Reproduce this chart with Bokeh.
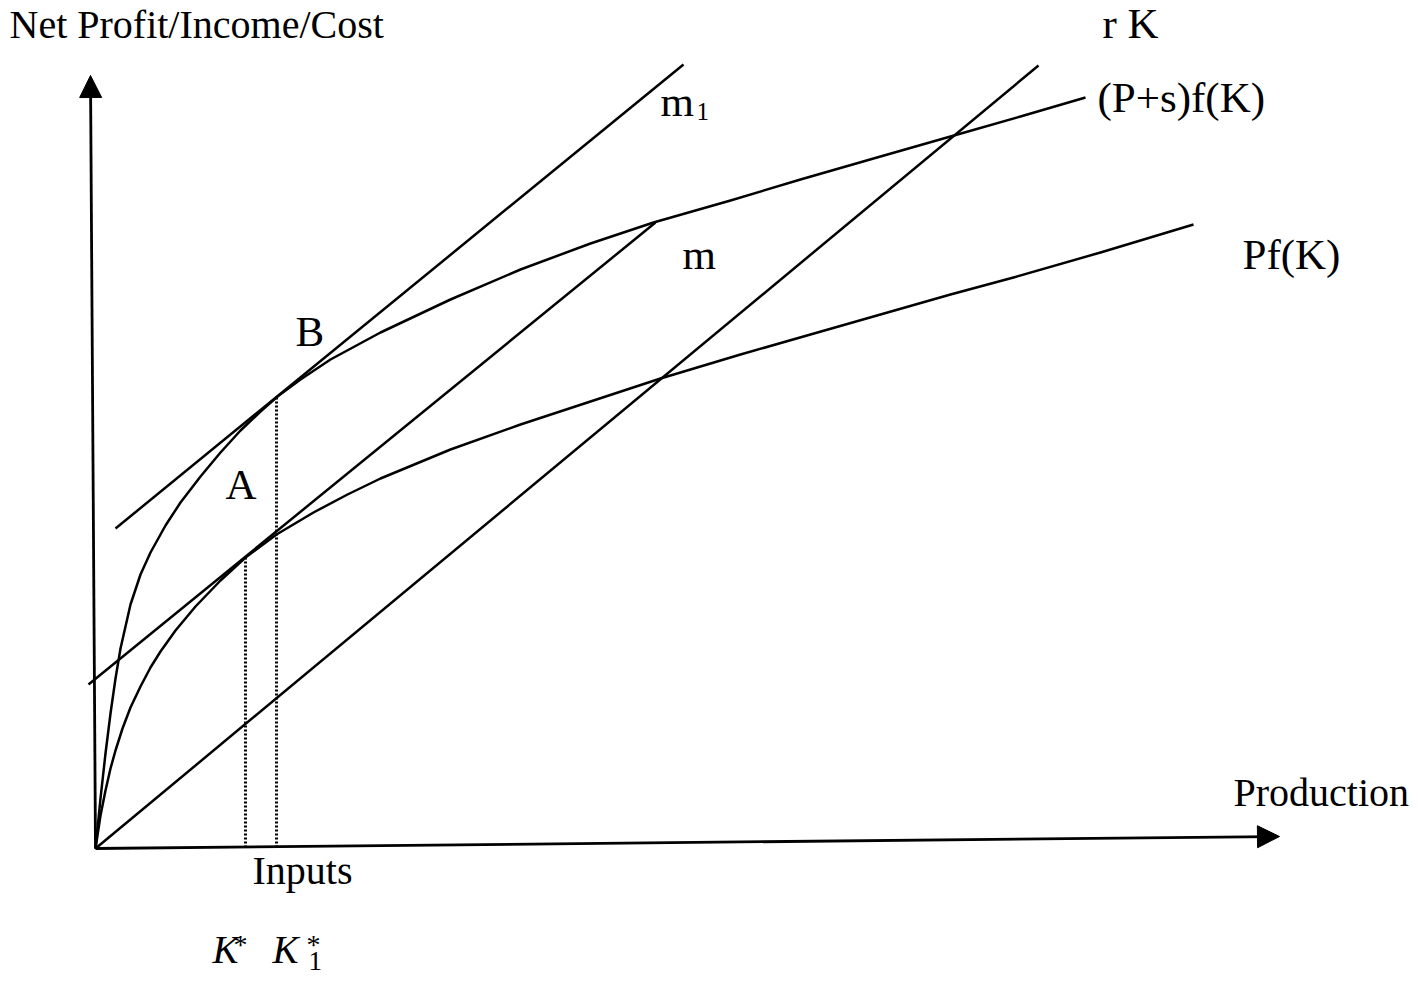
from bokeh.plotting import figure
from bokeh.models import ColumnDataSource, Range1d, Arrow, NormalHead
from bokeh.core.properties import value
from bokeh.embed import file_html
from bokeh.resources import INLINE

# ---- schematic data (inputs K on x, money value on y; origin at the axes' corner) ----
# (P+s)f(K): income curve with subsidy
psf_k = [0, 5, 10, 15, 20, 25, 35, 45, 55, 70, 85, 105, 125, 145, 165, 182, 205, 235, 285,
         355, 425, 495, 558, 635, 705, 785, 862, 925, 990]
psf_v = [0, 50, 95, 135, 170, 200, 244, 274, 296, 323, 346, 372, 396, 418, 437, 452, 469, 489,
         516, 549, 579, 605, 626, 648, 669, 692, 714, 732, 751]
# Pf(K): income curve without subsidy
pf_k = [0, 5, 10, 15, 20, 27, 35, 45, 55, 65, 80, 100, 125, 150, 181, 218, 252, 285,
        355, 425, 495, 565, 645, 715, 785, 855, 918, 1005, 1098]
pf_v = [0, 33, 58, 80, 98, 120, 141, 162, 181, 197, 218, 242, 268, 291, 314, 336, 354, 370,
        399, 424, 447, 470, 494, 514, 534, 554, 571, 596, 624]
# cost line rK and the two iso-profit lines m, m1
rk_k = [0, 943]
rk_v = [0, 783]
m_k = [-7, 560]
m_v = [164, 626]
m1_k = [20, 588]
m1_v = [320, 784]
# optimal inputs K* (point A) and K1* (point B)
opt_k = [150, 181]
opt_v = [291, 451]

# axes (end points of the arrows)
xaxis_end = (1184, 12)
yaxis_end = (-5, 773)

FONT = value("Liberation Serif")

p = figure(width=1410, height=978, x_range=Range1d(-95, 1315), y_range=Range1d(-130, 848),
           output_backend="svg", toolbar_location=None, x_axis_type=None, y_axis_type=None,
           min_border=0)
p.title.visible = False
p.outline_line_color = None
p.background_fill_color = "white"
p.border_fill_color = "white"

LW = 2.5
p.line(psf_k, psf_v, line_color="black", line_width=LW, line_join="round")
p.line(pf_k, pf_v, line_color="black", line_width=LW, line_join="round")
p.line(rk_k, rk_v, line_color="black", line_width=LW)
p.line(m_k, m_v, line_color="black", line_width=LW)
p.line(m1_k, m1_v, line_color="black", line_width=LW)

# dotted drop lines
p.segment(x0=opt_k, y0=[1, 1], x1=opt_k, y1=opt_v, line_color="black",
          line_width=3, line_dash="2 2")

# axes with arrow heads
for (xe, ye) in (xaxis_end, yaxis_end):
    p.add_layout(Arrow(x_start=0, y_start=0, x_end=xe, y_end=ye, line_width=2.8,
                       line_color="black",
                       end=NormalHead(size=22, fill_color="black", line_color="black",
                                      line_width=1)))

# ---- labels ----
small = ColumnDataSource(dict(
    x=[-86, 1138, 157],
    y=[824, 56, -22],
    text=["Net Profit/Income/Cost", "Production", "Inputs"]))
p.text(x="x", y="y", text="text", source=small, text_font=FONT, text_font_size="40px",
       text_color="black", text_align="left", text_baseline="alphabetic")

big = ColumnDataSource(dict(
    x=[1007, 1002, 1147, 565, 587, 200, 130],
    y=[825, 751, 594, 747, 594, 517, 364],
    text=["r K", "(P+s)f(K)", "Pf(K)", "m", "m", "B", "A"]))
p.text(x="x", y="y", text="text", source=big, text_font=FONT, text_font_size="43px",
       text_color="black", text_align="left", text_baseline="alphabetic")

# subscript of m1
p.text(x=[601], y=[737], text=["1"], text_font=FONT, text_font_size="25px",
       text_color="black", text_align="left", text_baseline="alphabetic")

# K* and K1*
p.text(x=[117, 177], y=[-101, -101], text=["K", "K"], text_font=FONT, text_font_size="39px",
       text_font_style="italic", text_color="black", text_align="left",
       text_baseline="alphabetic")
p.text(x=[138, 211], y=[-80, -80], text=["*", "*"], text_font=FONT, text_font_size="28px",
       text_color="black", text_align="left", text_baseline="top")
p.text(x=[213], y=[-112], text=["1"], text_font=FONT, text_font_size="27px",
       text_color="black", text_align="left", text_baseline="alphabetic")

open("out.html", "w").write(file_html(p, INLINE))
